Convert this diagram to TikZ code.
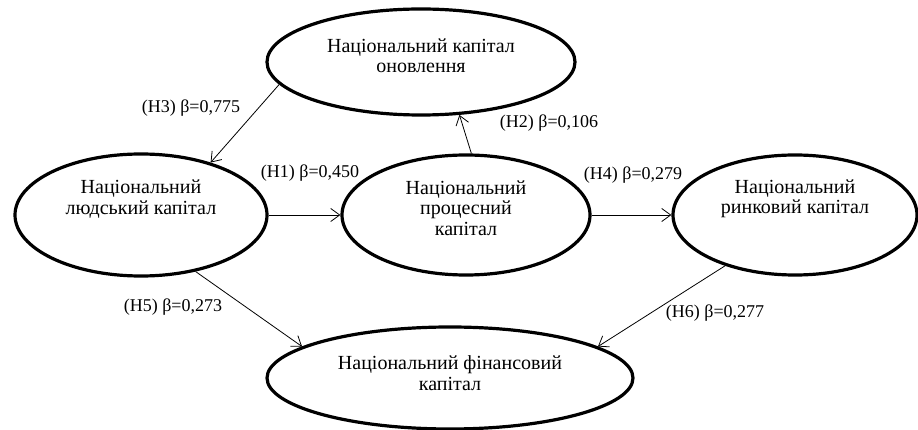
\documentclass[tikz,border=0pt]{standalone}
\usepackage{fontspec}
\setmainfont{Liberation Serif}
\usetikzlibrary{shapes.geometric,arrows.meta}
\begin{document}
\begin{tikzpicture}[x=1pt,y=-1pt,
  ell/.style 2 args={draw, ellipse, line width=3.2pt, minimum width=#1, minimum height=#2, inner sep=0pt},
  txt/.style={font=\fontsize{20}{20.5}\selectfont, align=center, inner sep=0pt},
  lbl/.style={font=\fontsize{18}{20}\selectfont, inner sep=0pt},
  arr/.style={-{Straight Barb[length=9pt,width=13pt]}, line width=0.8pt}]
\useasboundingbox (0,0) rectangle (918,430);
% ellipses
\node[ell={308pt}{106pt}] (ren) at (421,62) {};
\node[ell={252pt}{122pt}] (hum) at (141,215) {};
\node[ell={248pt}{120pt}] (pro) at (466,215) {};
\node[ell={244pt}{120pt}] (mar) at (795,215) {};
\node[ell={366pt}{102pt}] (fin) at (450,378) {};
% texts
\node[txt] (tren) at (421,56) {Національний капітал\\оновлення};
\node[txt] (thum) at (141,199) {Національний\\людський капітал};
\node[txt] (tpro) at (466,208) {Національний\\процесний\\капітал};
\node[txt] (tmar) at (795,199) {Національний\\ринковий капітал};
\node[txt] (tfin) at (450,373) {Національний фінансовий\\капітал};
% arrows
\draw[arr] (ren.189) -- (hum.37);
\draw[arr] (hum.0) -- (pro.180);
\draw[arr] (pro.85) -- (ren.306);
\draw[arr] (pro.0) -- (mar.180);
\draw[arr] (hum.314.5) -- (fin.168);
\draw[arr] (mar.216.5) -- (fin.12);
% labels
\node[lbl] (l3) at (191,108) {(H3) β=0,775};
\node[lbl] (l1) at (310,173) {(H1) β=0,450};
\node[lbl] (l2) at (549,123) {(H2) β=0,106};
\node[lbl] (l4) at (633,175) {(H4) β=0,279};
\node[lbl] (l5) at (173,307) {(H5) β=0,273};
\node[lbl] (l6) at (715,313) {(H6) β=0,277};
\end{tikzpicture}
\end{document}
